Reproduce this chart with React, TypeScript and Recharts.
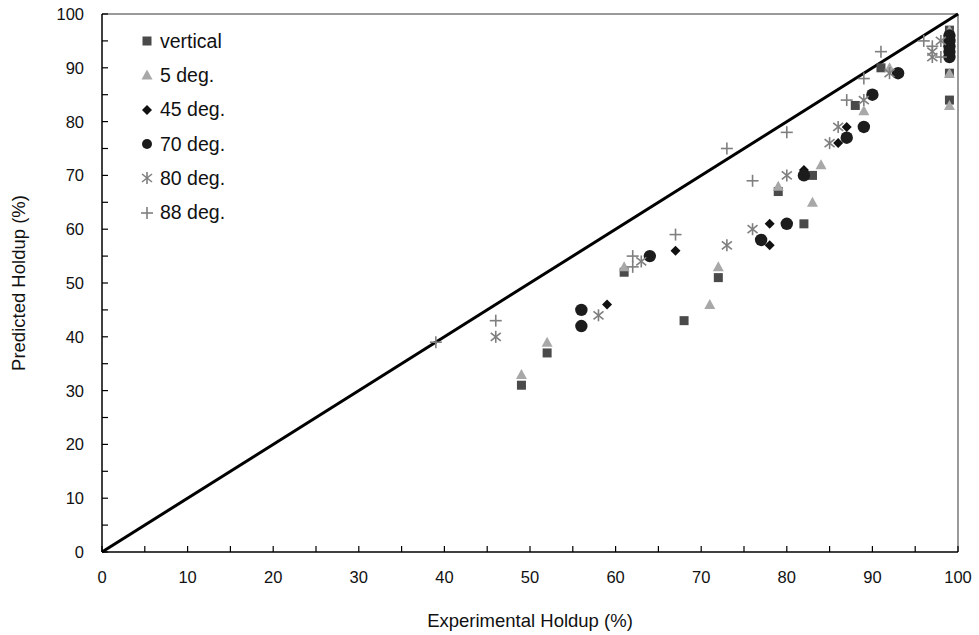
import React from 'react'
import { ScatterChart, Scatter, XAxis, YAxis, ReferenceLine, Label } from 'recharts'

// experimental vs predicted holdup (%), one list per inclination
const vertical = [
  { x: 49, y: 31 }, { x: 52, y: 37 }, { x: 61, y: 52 }, { x: 68, y: 43 }, { x: 72, y: 51 },
  { x: 79, y: 67 }, { x: 82, y: 61 }, { x: 83, y: 70 }, { x: 88, y: 83 }, { x: 91, y: 90 },
  { x: 99, y: 97 }, { x: 99, y: 89 }, { x: 99, y: 84 },
]
const deg5 = [
  { x: 49, y: 33 }, { x: 52, y: 39 }, { x: 61, y: 53 }, { x: 71, y: 46 }, { x: 72, y: 53 },
  { x: 79, y: 68 }, { x: 83, y: 65 }, { x: 84, y: 72 }, { x: 89, y: 82 }, { x: 92, y: 90 },
  { x: 99, y: 97 }, { x: 99, y: 89 }, { x: 99, y: 83 },
]
const deg45 = [
  { x: 59, y: 46 }, { x: 67, y: 56 }, { x: 78, y: 61 }, { x: 78, y: 57 }, { x: 82, y: 71 },
  { x: 86, y: 76 }, { x: 87, y: 79 }, { x: 99, y: 96 }, { x: 99, y: 95 }, { x: 99, y: 94 },
  { x: 99, y: 93 },
]
const deg70 = [
  { x: 56, y: 45 }, { x: 56, y: 42 }, { x: 64, y: 55 }, { x: 77, y: 58 }, { x: 80, y: 61 },
  { x: 82, y: 70 }, { x: 87, y: 77 }, { x: 89, y: 79 }, { x: 90, y: 85 }, { x: 93, y: 89 },
  { x: 99, y: 96 }, { x: 99, y: 95 }, { x: 99, y: 94 }, { x: 99, y: 93 }, { x: 99, y: 92 },
]
const deg80 = [
  { x: 46, y: 40 }, { x: 58, y: 44 }, { x: 63, y: 54 }, { x: 73, y: 57 }, { x: 76, y: 60 },
  { x: 80, y: 70 }, { x: 85, y: 76 }, { x: 86, y: 79 }, { x: 89, y: 84 }, { x: 92, y: 89 },
  { x: 97, y: 93 }, { x: 97, y: 92 }, { x: 98, y: 95 },
]
const deg88 = [
  { x: 39, y: 39 }, { x: 46, y: 43 }, { x: 62, y: 55 }, { x: 62, y: 53 }, { x: 67, y: 59 },
  { x: 73, y: 75 }, { x: 76, y: 69 }, { x: 80, y: 78 }, { x: 87, y: 84 }, { x: 89, y: 88 },
  { x: 91, y: 93 }, { x: 96, y: 95 }, { x: 97, y: 94 }, { x: 98, y: 92 },
]

const axisTicks = [0, 5, 10, 15, 20, 25, 30, 35, 40, 45, 50, 55, 60, 65, 70, 75, 80, 85, 90, 95, 100]
const labelledTicks = [0, 10, 20, 30, 40, 50, 60, 70, 80, 90, 100]

const FONT = '"Liberation Sans", Arial, Helvetica, sans-serif'

type Kind = 'square' | 'triangle' | 'diamond' | 'circle' | 'asterisk' | 'plus'

const drawMarker = (kind: Kind, cx: number, cy: number, color: string) => {
  switch (kind) {
    case 'square':
      return <rect x={cx - 4.5} y={cy - 4.5} width={9} height={9} fill={color} />
    case 'triangle':
      return <polygon points={`${cx},${cy - 5.5} ${cx + 5.5},${cy + 4.5} ${cx - 5.5},${cy + 4.5}`} fill={color} />
    case 'diamond':
      return <polygon points={`${cx},${cy - 5} ${cx + 5},${cy} ${cx},${cy + 5} ${cx - 5},${cy}`} fill={color} />
    case 'circle':
      return <circle cx={cx} cy={cy} r={6.2} fill={color} />
    case 'asterisk':
      return (
        <g stroke={color} strokeWidth={1.6}>
          <line x1={cx} y1={cy - 6} x2={cx} y2={cy + 6} />
          <line x1={cx - 5} y1={cy - 4} x2={cx + 5} y2={cy + 4} />
          <line x1={cx - 5} y1={cy + 4} x2={cx + 5} y2={cy - 4} />
        </g>
      )
    default:
      return (
        <g stroke={color} strokeWidth={1.6}>
          <line x1={cx} y1={cy - 6} x2={cx} y2={cy + 6} />
          <line x1={cx - 6} y1={cy} x2={cx + 6} y2={cy} />
        </g>
      )
  }
}

const series: { name: string; data: { x: number; y: number }[]; kind: Kind; color: string }[] = [
  { name: 'vertical', data: vertical, kind: 'square', color: '#4a4a4a' },
  { name: '5 deg.', data: deg5, kind: 'triangle', color: '#a8a8a8' },
  { name: '45 deg.', data: deg45, kind: 'diamond', color: '#111111' },
  { name: '70 deg.', data: deg70, kind: 'circle', color: '#1c1c1c' },
  { name: '80 deg.', data: deg80, kind: 'asterisk', color: '#7f7f7f' },
  { name: '88 deg.', data: deg88, kind: 'plus', color: '#7f7f7f' },
]

const XTick = (props: any) => {
  const { x, y, payload } = props
  const v = payload.value
  return (
    <g>
      <line x1={x} y1={y} x2={x} y2={y - 6} stroke="#000" strokeWidth={1.2} />
      {labelledTicks.includes(v) && (
        <text x={x} y={y + 31} textAnchor="middle" fontSize={16.5} fontFamily={FONT} fill="#111">{v}</text>
      )}
    </g>
  )
}

const YTick = (props: any) => {
  const { x, y, payload } = props
  const v = payload.value
  return (
    <g>
      <line x1={x} y1={y} x2={x + 6} y2={y} stroke="#000" strokeWidth={1.2} />
      {labelledTicks.includes(v) && (
        <text x={x - 18} y={y + 6} textAnchor="end" fontSize={16.5} fontFamily={FONT} fill="#111">{v}</text>
      )}
    </g>
  )
}

function LegendBox() {
  return (
    <div style={{ position: 'absolute', left: 139, top: 24, fontFamily: FONT, fontSize: 19.5, color: '#111' }}>
      {series.map(s => (
        <div key={s.name} style={{ display: 'flex', alignItems: 'center', height: 34.3 }}>
          <svg width={16} height={16} style={{ marginRight: 5 }}>
            {s.kind === 'circle'
              ? <circle cx={8} cy={8} r={5} fill={s.color} />
              : drawMarker(s.kind, 8, 8, s.color)}
          </svg>
          <span>{s.name}</span>
        </div>
      ))}
    </div>
  )
}

export default function App() {
  return (
    <div style={{ position: 'absolute', left: 0, top: 0, width: 979, height: 635, background: '#fff' }}>
      <ScatterChart width={979} height={635} margin={{ top: 14, right: 21, bottom: 0, left: 0 }}>
        <XAxis
          type="number"
          dataKey="x"
          domain={[0, 100]}
          ticks={axisTicks}
          interval={0}
          tickSize={0}
          tickMargin={0}
          tick={<XTick />}
          height={83}
          axisLine={{ stroke: '#000', strokeWidth: 1.5 }}
        >
          <Label
            value="Experimental Holdup (%)"
            position="insideBottom"
            offset={8}
            style={{ fontFamily: FONT, fontSize: 18.5, fill: '#111' }}
          />
        </XAxis>
        <YAxis
          type="number"
          dataKey="y"
          domain={[0, 100]}
          ticks={axisTicks}
          interval={0}
          tickSize={0}
          tickMargin={0}
          tick={<YTick />}
          width={102}
          axisLine={{ stroke: '#000', strokeWidth: 1.5 }}
        >
          <Label
            value="Predicted Holdup (%)"
            angle={-90}
            position="insideLeft"
            offset={18}
            style={{ fontFamily: FONT, fontSize: 18.5, fill: '#111', textAnchor: 'middle' }}
          />
        </YAxis>
        <ReferenceLine y={100} stroke="#9a9a9a" strokeWidth={2} />
        <ReferenceLine x={100} stroke="#9a9a9a" strokeWidth={2} />
        <ReferenceLine
          segment={[{ x: 0, y: 0 }, { x: 100, y: 100 }]}
          stroke="#000"
          strokeWidth={3}
        />
        {series.map(s => (
          <Scatter
            key={s.name}
            name={s.name}
            data={s.data}
            isAnimationActive={false}
            shape={(p: any) => drawMarker(s.kind, p.cx, p.cy, s.color)}
          />
        ))}
      </ScatterChart>
      <LegendBox />
    </div>
  )
}
